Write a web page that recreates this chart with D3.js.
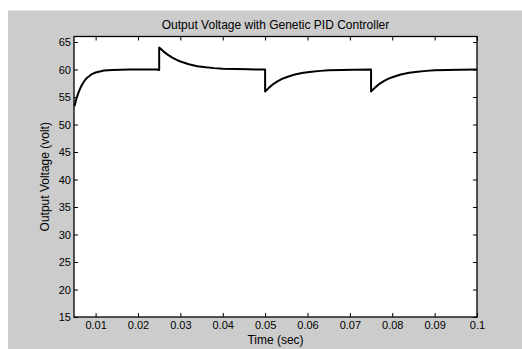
<!DOCTYPE html>
<html>
<head>
<meta charset="utf-8">
<script src="https://cdn.jsdelivr.net/npm/d3@7"></script>
<style>
  html, body { margin: 0; padding: 0; background: #fff; }
  svg { display: block; }
  text { font-family: "Liberation Sans", Arial, sans-serif; }
</style>
</head>
<body>
<svg id="chart"></svg>
<script>
// time (sec) and output voltage (volt)
const timeSec = [
  0.005, 0.0055, 0.006, 0.0065, 0.007, 0.0075, 0.008, 0.009, 0.010, 0.011,
  0.012, 0.013, 0.014, 0.016, 0.018, 0.0245, 0.0249, 0.025,
  0.025, 0.026, 0.027, 0.028, 0.029, 0.030, 0.032, 0.034, 0.036, 0.038,
  0.040, 0.043, 0.046, 0.050,
  0.050, 0.051, 0.052, 0.053, 0.054, 0.055, 0.057, 0.059, 0.061, 0.063,
  0.065, 0.068, 0.071, 0.075,
  0.075, 0.076, 0.077, 0.078, 0.079, 0.080, 0.082, 0.084, 0.086, 0.088,
  0.090, 0.093, 0.096, 0.100
];
const voltage = [
  53.3, 54.8, 55.9, 56.8, 57.5, 58.1, 58.5, 59.1, 59.45, 59.65,
  59.8, 59.88, 59.93, 59.97, 60.0, 60.0, 59.9, 59.9,
  64.0, 63.3, 62.7, 62.2, 61.8, 61.45, 60.95, 60.6, 60.4, 60.25,
  60.15, 60.07, 60.03, 60.0,
  56.0, 56.75, 57.4, 57.9, 58.3, 58.6, 59.1, 59.4, 59.6, 59.75,
  59.85, 59.93, 59.97, 60.0,
  56.0, 56.75, 57.4, 57.9, 58.3, 58.6, 59.1, 59.4, 59.6, 59.75,
  59.85, 59.93, 59.97, 60.0
];
const xTicks = [0.01, 0.02, 0.03, 0.04, 0.05, 0.06, 0.07, 0.08, 0.09, 0.1];
const yTicks = [15, 20, 25, 30, 35, 40, 45, 50, 55, 60, 65];

const width = 522;
const height = 349;
const margin = { top: 36.5, right: 45, bottom: 32, left: 74 };
const plotW = width - margin.left - margin.right;
const plotH = height - margin.top - margin.bottom;

const svg = d3.select("#chart")
  .attr("width", width)
  .attr("height", height);

// figure background (MATLAB grey)
svg.append("rect")
  .attr("x", 8)
  .attr("y", 10.5)
  .attr("width", width - 8)
  .attr("height", height - 10.5)
  .attr("fill", "#cccccc");

const x = d3.scaleLinear().domain([0.0049, 0.1]).range([0, plotW]);
const y = d3.scaleLinear().domain([15, 66]).range([plotH, 0]);

const g = svg.append("g")
  .attr("transform", `translate(${margin.left},${margin.top})`);

g.append("rect")
  .attr("width", plotW)
  .attr("height", plotH)
  .attr("fill", "#ffffff");

const fmtX = d => String(+d.toFixed(2));

const styleAxis = (sel) => {
  sel.select(".domain").remove();
  sel.selectAll(".tick line").attr("stroke", "#000");
  sel.selectAll(".tick text")
    .attr("fill", "#000")
    .style("font-size", "11px")
    .style("font-family", "'Liberation Sans', Arial, sans-serif");
};

g.append("g")
  .attr("transform", `translate(0,${plotH})`)
  .call(d3.axisBottom(x).tickValues(xTicks).tickFormat(fmtX).tickSizeInner(-4).tickSizeOuter(0).tickPadding(4))
  .call(styleAxis);

g.append("g")
  .call(d3.axisTop(x).tickValues(xTicks).tickFormat("").tickSizeInner(-4).tickSizeOuter(0))
  .call(styleAxis);

g.append("g")
  .call(d3.axisLeft(y).tickValues(yTicks).tickSizeInner(-4).tickSizeOuter(0).tickPadding(3))
  .call(styleAxis);

g.append("g")
  .attr("transform", `translate(${plotW},0)`)
  .call(d3.axisRight(y).tickValues(yTicks).tickFormat("").tickSizeInner(-4).tickSizeOuter(0))
  .call(styleAxis);

// the response curve
const points = timeSec.map((t, i) => [t, voltage[i]]);
const line = d3.line()
  .x(d => x(d[0]))
  .y(d => y(d[1]));

g.append("path")
  .datum(points)
  .attr("d", line)
  .attr("fill", "none")
  .attr("stroke", "#000")
  .attr("stroke-width", 2)
  .attr("stroke-linejoin", "round");

// axes box
g.append("rect")
  .attr("width", plotW)
  .attr("height", plotH)
  .attr("fill", "none")
  .attr("stroke", "#000")
  .attr("stroke-width", 1.3);

svg.append("text")
  .attr("x", margin.left + plotW / 2)
  .attr("y", 28.5)
  .attr("text-anchor", "middle")
  .style("font-size", "12px")
  .text("Output Voltage with Genetic PID Controller");

svg.append("text")
  .attr("x", margin.left + plotW / 2)
  .attr("y", 343.5)
  .attr("text-anchor", "middle")
  .style("font-size", "12px")
  .text("Time (sec)");

svg.append("text")
  .attr("transform", `translate(48.5,${margin.top + plotH / 2}) rotate(-90)`)
  .attr("text-anchor", "middle")
  .style("font-size", "12px")
  .text("Output Voltage (volt)");
</script>
</body>
</html>
